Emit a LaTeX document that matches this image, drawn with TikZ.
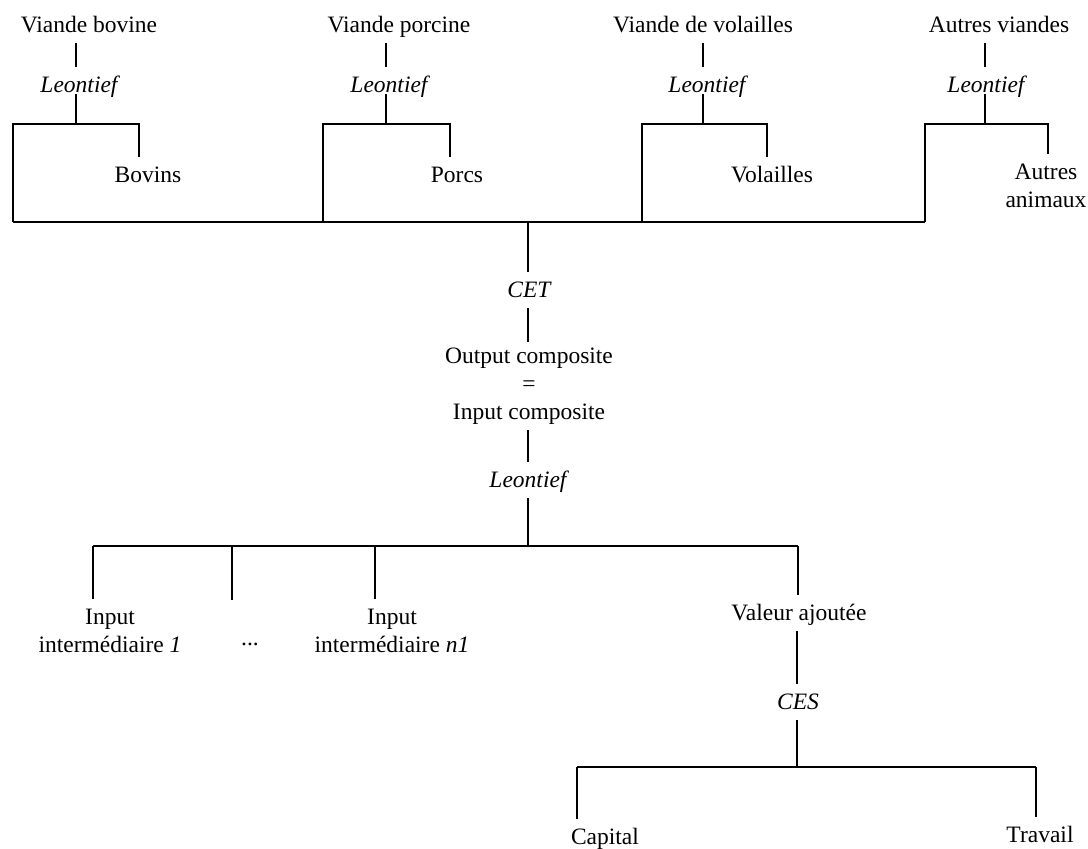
\documentclass[tikz,border=0pt]{standalone}
\usepackage{fontspec}
\setmainfont{Liberation Serif}
\begin{document}
\begin{tikzpicture}[x=0.5pt,y=-0.5pt,line width=1.2pt,
  every node/.style={font=\fontsize{11.75pt}{14pt}\selectfont, inner xsep=0pt},
  lbl/.style={text height=8.2pt, text depth=1.2pt, inner ysep=3.75pt},
  fn/.style={lbl, font=\fontsize{11.75pt}{14pt}\selectfont\itshape},
  multi/.style={align=center, inner ysep=4.5pt}]
\useasboundingbox (0,0) rectangle (1088,848);

% ---- top row: products
\node[lbl] (vb) at (89,25)  {Viande bovine};
\node[lbl] (vp) at (399,25) {Viande porcine};
\node[lbl] (vv) at (703,25) {Viande de volailles};
\node[lbl] (va) at (999,25) {Autres viandes};

\node[fn] (l1) at (79,85)  {Leontief};
\node[fn] (l2) at (389,85) {Leontief};
\node[fn] (l3) at (707,85) {Leontief};
\node[fn] (l4) at (986,85) {Leontief};

\node[lbl] (bov) at (148,175) {Bovins};
\node[lbl] (por) at (457,175) {Porcs};
\node[lbl] (vol) at (772,175) {Volailles};
\node[multi] (aut) at (1046,186) {Autres\\animaux};

% bracket joints
\coordinate (j1) at (76,124);  \coordinate (a1) at (13,124);  \coordinate (c1) at (139,124);
\coordinate (j2) at (386,124); \coordinate (a2) at (323,124); \coordinate (c2) at (450,124);
\coordinate (j3) at (703,124); \coordinate (a3) at (642,124); \coordinate (c3) at (767,124);
\coordinate (j4) at (985,124); \coordinate (a4) at (925,124); \coordinate (c4) at (1048,124);
\coordinate (mL) at (13,222); \coordinate (mR) at (925,222); \coordinate (mC) at (528,222);

\foreach \v/\l/\j/\a/\c/\t in {vb/l1/j1/a1/c1/bov, vp/l2/j2/a2/c2/por, vv/l3/j3/a3/c3/vol, va/l4/j4/a4/c4/aut}{
  \draw (\v.south -| \j) -- (\l.north -| \j);
  \draw[shorten <=-4.5pt] (\l.south -| \j) -- (\j);
  \draw (\a |- mL) -- (\a) -- (\c) -- (\t.north -| \c);
}
\draw (mL) -- (mR);

% ---- centre column
\node[fn] (cet) at (529,290) {CET};
\node[align=center, inner ysep=2.5pt] (oc) at (529,386) {Output composite\\=\\Input composite};
\node[fn] (l5) at (528,480) {Leontief};
\coordinate (hj) at (528,546);
\coordinate (h0) at (93,546); \coordinate (h1) at (232,546);
\coordinate (h2) at (375,546); \coordinate (h3) at (798,546);

\draw (mC) -- (cet.north -| mC);
\draw (cet.south -| mC) -- (oc.north -| mC);
\draw (oc.south -| mC) -- (l5.north -| mC);
\draw (l5.south -| mC) -- (hj);
\draw (h0) -- (h3);

% ---- inputs
\node[multi] (in1) at (110,631) {Input\\intermédiaire \textit{1}};
\node[anchor=base, inner ysep=0pt] (dots) at (250,645) {...};
\node[multi] (inn) at (392,631) {Input\\intermédiaire \textit{n1}};
\node[lbl] (vaj) at (799,613) {Valeur ajoutée};
\coordinate (dend) at (232,600);

\draw (h0) -- (in1.north -| h0);
\draw (h1) -- (dend);
\draw (h2) -- (inn.north -| h2);
\draw (h3) -- (vaj.north -| h3);

% ---- value added
\node[fn] (ces) at (798,702) {CES};
\coordinate (kj) at (797,767);
\coordinate (k0) at (577,767); \coordinate (k1) at (1036,767);
\node[lbl] (cap) at (605,837) {Capital};
\node[lbl] (tra) at (1040,835) {Travail};

\draw (vaj.south -| kj) -- (ces.north -| kj);
\draw (ces.south -| kj) -- (kj);
\draw (k0) -- (k1);
\draw (k0) -- (cap.north -| k0);
\draw (k1) -- (tra.north -| k1);
\end{tikzpicture}
\end{document}
